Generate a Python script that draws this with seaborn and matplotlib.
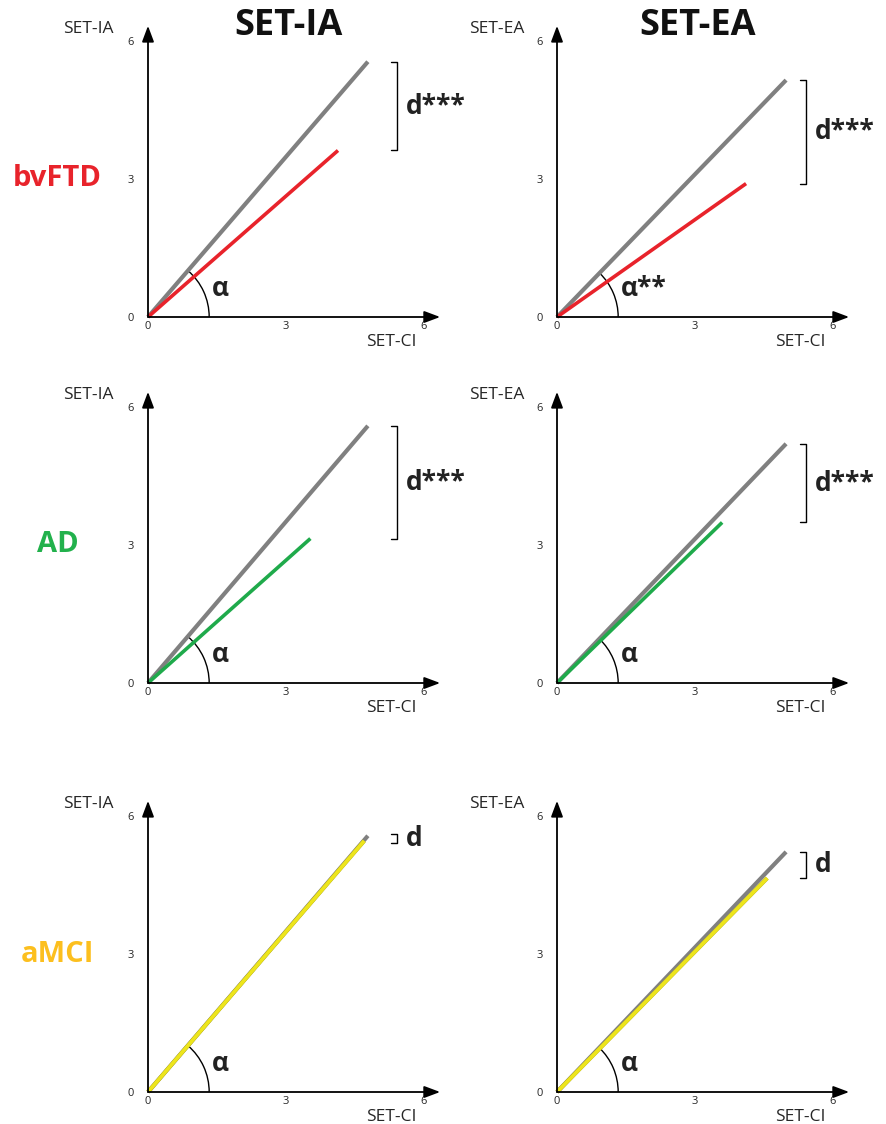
import matplotlib.pyplot as plt
import matplotlib.patches as mpatches
import matplotlib.patheffects as pe
import numpy as np
import pandas as pd
import seaborn as sns

# grupos (filas) y medidas (columnas)
groups = ["bvFTD", "AD", "aMCI"]
measures = ["SET-IA", "SET-EA"]
group_line_colors = ["#e8232b", "#1faa4b", "#ede51c"]
group_label_colors = ["#e8232b", "#22b14c", "#fcbf1e"]

# extremo de la recta de controles (gris) por grupo y medida
control_end_x = [[4.78, 4.98], [4.78, 4.98], [4.78, 4.98]]
control_end_y = [[5.55, 5.15], [5.59, 5.20], [5.57, 5.22]]
# extremo de la recta del grupo de pacientes
patient_end_x = [[4.13, 4.11], [3.53, 3.59], [4.70, 4.57]]
patient_end_y = [[3.62, 2.90], [3.14, 3.49], [5.46, 4.65]]

d_labels = [["d***", "d***"], ["d***", "d***"], ["d", "d"]]
alpha_labels = [["α", "α**"], ["α", "α"], ["α", "α"]]
ticks = [0, 3, 6]
x_name = "SET-CI"

sns.set_style("white")
plt.rcParams['font.family'] = ['Open Sans', 'DejaVu Sans']

W, H = 887, 1124
fig = plt.figure(figsize=(W / 100, H / 100), dpi=100)
u = 46.0  # pixeles por unidad
col_x = [148, 557]
row_y = [317, 683, 1092]
lo, hi = -0.3, 6.6

for r in range(3):
    for c in range(2):
        ox, oy = col_x[c], row_y[r]
        ax = fig.add_axes([(ox + lo * u) / W, (H - oy + lo * u) / H,
                           (hi - lo) * u / W, (hi - lo) * u / H])
        ax.set_xlim(lo, hi)
        ax.set_ylim(lo, hi)
        ax.patch.set_alpha(0)
        for s in ax.spines.values():
            s.set_visible(False)
        ax.spines['left'].set_position(('data', 0))
        ax.spines['bottom'].set_position(('data', 0))

        # ejes con flecha
        arrow = dict(arrowstyle="-|>,head_length=0.8,head_width=0.3", lw=1.3,
                     color="black", shrinkA=0, shrinkB=0, mutation_scale=12)
        ax.annotate("", xy=(6.35, 0), xytext=(0, 0), arrowprops=arrow)
        ax.annotate("", xy=(0, 6.33), xytext=(0, 0), arrowprops=arrow)

        ax.set_xticks(ticks)
        ax.set_yticks(ticks)
        ax.set_xticklabels([str(t) for t in ticks])
        ax.set_yticklabels([str(t) for t in ticks])
        ax.tick_params(axis='x', length=0, pad=3, labelsize=8)
        ax.tick_params(axis='y', length=0, pad=10, labelsize=8)

        gx, gy = control_end_x[r][c], control_end_y[r][c]
        px, py = patient_end_x[r][c], patient_end_y[r][c]

        ctrl = pd.DataFrame({"x": [0, gx], "y": [0, gy]})
        pat = pd.DataFrame({"x": [0, px], "y": [0, py]})
        sns.lineplot(data=ctrl, x="x", y="y", ax=ax, color="#808080",
                     linewidth=3.0, solid_capstyle="butt", clip_on=False)
        line_fx = []
        if r == 2:
            line_fx = [pe.Stroke(linewidth=3.0, foreground="#b8b020"), pe.Normal()]
        sns.lineplot(data=pat, x="x", y="y", ax=ax, color=group_line_colors[r],
                     linewidth=2.6, solid_capstyle="butt", clip_on=False,
                     path_effects=line_fx)
        ax.set_xlabel("")
        ax.set_ylabel("")

        # angulo alfa
        ang = np.degrees(np.arctan2(gy, gx))
        ax.add_patch(mpatches.Arc((0, 0), 2.66, 2.66, theta1=0, theta2=ang,
                                  color="black", lw=1.0))
        ax.text(1.38, 0.62, alpha_labels[r][c], fontsize=19, fontweight="bold",
                ha="left", va="center", color="#222222")

        # corchete de la distancia d
        bx = 5.42
        top, bot = max(gy, py), min(gy, py)
        if top - bot < 0.2:
            mid = (top + bot) / 2
            top, bot = mid + 0.1, mid - 0.1
        ax.plot([bx - 0.13, bx, bx, bx - 0.13], [top, top, bot, bot],
                color="black", lw=1.0, clip_on=False)
        ax.text(bx + 0.18, (top + bot) / 2, d_labels[r][c], fontsize=19,
                fontweight="bold", ha="left", va="center", color="#222222")

        # textos de ejes
        ax.text(-1.3, 6.27, measures[c], fontsize=12.5, ha="center", va="center")
        ax.text(5.28, -0.55, x_name, fontsize=12.5, ha="center", va="center")

        if r == 0:
            ax.text(3.05, 6.33, measures[c], fontsize=26, fontweight="bold",
                    ha="center", va="center", color="#111111")
        if c == 0:
            ax.text(-1.97, 3.0, groups[r], fontsize=21, fontweight="bold",
                    ha="center", va="center", color=group_label_colors[r])

fig.savefig("out.png", dpi=100)
